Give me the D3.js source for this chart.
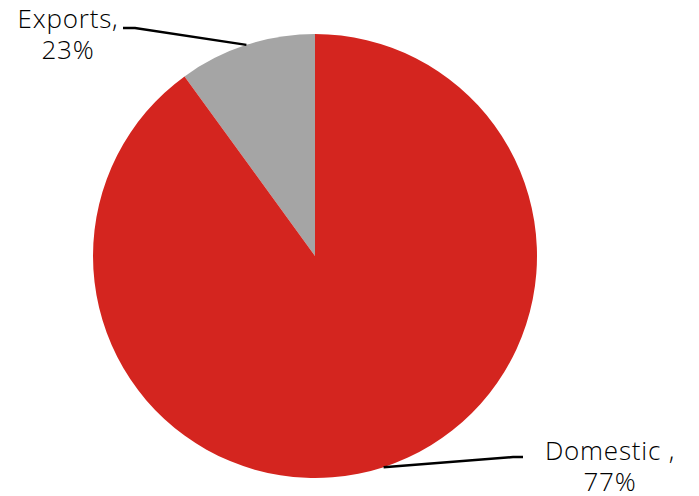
<!DOCTYPE html>
<html>
<head>
<meta charset="utf-8">
<script src="https://cdn.jsdelivr.net/npm/d3@7"></script>
<style>
  body { margin: 0; background: #fff; }
  text { font-family: "Open Sans", "DejaVu Sans", sans-serif; font-weight: 300; fill: #000; }
</style>
</head>
<body>
<svg id="svg" width="699" height="496"></svg>
<script>
// donnees
var categories = ["Exports", "Domestic"];
var values = [10, 90]; // angles
var labelLine1 = ["Exports,", "Domestic ,"];
var labelLine2 = ["23%", "77%"];
var colors = ["#a5a5a5", "#d4251f"];

var svg = d3.select("#svg");
var cx = 315, cy = 256, r = 222;
var g = svg.append("g").attr("transform", "translate(" + cx + "," + cy + ")");

var pie = d3.pie().sort(null).startAngle(0).endAngle(-2 * Math.PI);
var arcs = pie(values);
var arc = d3.arc().innerRadius(0).outerRadius(r);
var edge = d3.arc().innerRadius(r).outerRadius(r);

g.selectAll("path.slice")
  .data(arcs)
  .enter()
  .append("path")
  .attr("class", "slice")
  .attr("d", arc)
  .attr("fill", function(d, i) { return colors[i]; });

// position des etiquettes (relatif au centre)
var labelPos = [[68 - cx, 28 - cy], [610 - cx, 460 - cy]];
var elbow = [[[123 - cx, 28 - cy], [135 - cx, 28 - cy]], [[523 - cx, 457 - cy], [513 - cx, 457 - cy]]];

arcs.forEach(function(d, i) {
  var p = edge.centroid(d);
  var pts = [elbow[i][0], elbow[i][1], p];
  g.append("path")
    .attr("d", d3.line()(pts))
    .attr("fill", "none")
    .attr("stroke", "#000")
    .attr("stroke-width", 2.5);

  var t = g.append("text")
    .attr("text-anchor", "middle")
    .style("font-size", "26px")
    .style("letter-spacing", "0.8px");
  t.append("tspan").attr("x", labelPos[i][0]).attr("y", labelPos[i][1]).text(labelLine1[i]);
  t.append("tspan").attr("x", labelPos[i][0]).attr("y", labelPos[i][1] + 31).text(labelLine2[i]);
});
</script>
</body>
</html>
